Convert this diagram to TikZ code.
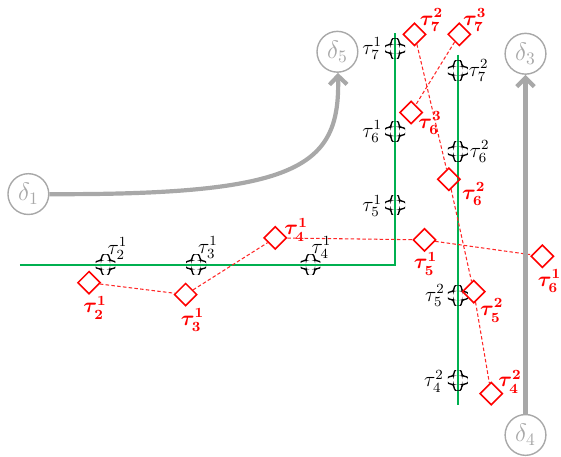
\documentclass[tikz,border=0pt]{standalone}
\usepackage{amsmath}
\usepackage{amssymb}
\usepackage{tikz}
\usetikzlibrary{arrows.meta,shapes.geometric,positioning}
\definecolor{trackgreen}{RGB}{0,176,80}
\definecolor{softgray}{RGB}{168,168,168}

\begin{document}
\begin{tikzpicture}
[x=0.02cm,y=-0.02cm,
cut/.style={rectangle,inner sep=0pt,minimum size=0.4cm,path picture={\draw[black,line width=0.75pt,rounded corners=1.5pt,shift={(path picture bounding box.center)}] (-4,-9) to[bend left=40] (4,-9) -- (4,-4) -- (9,-4) to[bend left=40] (9,4) -- (4,4) -- (4,9) to[bend left=40] (-4,9) -- (-4,4) -- (-9,4) to[bend left=40] (-9,-4) -- (-4,-4) -- cycle;}},
slot/.style={diamond,draw=red,line width=0.9pt,inner sep=0pt,minimum size=0.46cm},
blab/.style={inner sep=0pt,font=\large},
rlab/.style={inner sep=0pt,font=\large\boldmath,text=red},
delta/.style={circle,draw=softgray,line width=0.8pt,text=softgray,inner sep=0pt,minimum size=0.82cm,font=\Large},
track/.style={draw=trackgreen,line width=1.1pt},
link/.style={draw=red!85,line width=0.6pt,dash pattern=on 2pt off 1.3pt},
flow/.style={draw=softgray,line width=2.4pt,-{Straight Barb[length=5pt,width=10pt]}}]

% tracks
\draw [track] (20,266) -- (397,266) -- (397,33);
\draw [track] (460,55) -- (460,407);

% black cut marks
\node[cut] (m21) at (106,266) {};
\node[cut] (m31) at (197,266) {};
\node[cut] (m41) at (312,266) {};
\node[cut] (m51) at (397,206) {};
\node[cut] (m61) at (397,132) {};
\node[cut] (m71) at (397,49) {};
\node[cut] (m72) at (460,71) {};
\node[cut] (m62) at (460,152) {};
\node[cut] (m52) at (460,297) {};
\node[cut] (m42) at (460,382) {};

\node[blab] (lm21) at ([shift={(12,-16)}]m21) {$\tau^1_2$};
\node[blab] (lm31) at ([shift={(12,-17)}]m31) {$\tau^1_3$};
\node[blab] (lm41) at ([shift={(11,-17)}]m41) {$\tau^1_4$};
\node[blab] (lm51) at ([shift={(-23,1)}]m51) {$\tau^1_5$};
\node[blab] (lm61) at ([shift={(-23,0)}]m61) {$\tau^1_6$};
\node[blab] (lm71) at ([shift={(-23,0)}]m71) {$\tau^1_7$};
\node[blab] (lm72) at ([shift={(21,0)}]m72) {$\tau^2_7$};
\node[blab] (lm62) at ([shift={(22,0)}]m62) {$\tau^2_6$};
\node[blab] (lm52) at ([shift={(-23,0)}]m52) {$\tau^2_5$};
\node[blab] (lm42) at ([shift={(-24,1)}]m42) {$\tau^2_4$};

% red slots
\node[slot] (r21) at (89.5,284) {};
\node[slot] (r31) at (186.5,296) {};
\node[slot] (r41) at (276.5,239) {};
\node[slot] (r51) at (426.5,241) {};
\node[slot] (r61) at (545,257.5) {};
\node[slot] (r72) at (416.5,34.5) {};
\node[slot] (r73) at (461.5,34.5) {};
\node[slot] (r63) at (413,113) {};
\node[slot] (r62) at (451,180) {};
\node[slot] (r52) at (476,293) {};
\node[slot] (r42) at (493.5,395.5) {};

\node[rlab] (lr21) at ([shift={(6,25)}]r21) {$\tau^1_2$};
\node[rlab] (lr31) at ([shift={(7,25.5)}]r31) {$\tau^1_3$};
\node[rlab] (lr41) at ([shift={(21,-8)}]r41) {$\tau^1_4$};
\node[rlab] (lr51) at ([shift={(1,24)}]r51) {$\tau^1_5$};
\node[rlab] (lr61) at ([shift={(7,25)}]r61) {$\tau^1_6$};
\node[rlab] (lr72) at ([shift={(17,-14)}]r72) {$\tau^2_7$};
\node[rlab] (lr73) at ([shift={(15.5,-14)}]r73) {$\tau^3_7$};
\node[rlab] (lr63) at ([shift={(19,11)}]r63) {$\tau^3_6$};
\node[rlab] (lr62) at ([shift={(25,15)}]r62) {$\tau^2_6$};
\node[rlab] (lr52) at ([shift={(18,19)}]r52) {$\tau^2_5$};
\node[rlab] (lr42) at ([shift={(19,-12)}]r42) {$\tau^2_4$};

\draw [link] (r21) -- (r31);
\draw [link] (r31) -- (r41);
\draw [link] (r41) -- (r51);
\draw [link] (r51) -- (r61);
\draw [link] (r72) -- (r62);
\draw [link] (r62) -- (r52);
\draw [link] (r52) -- (r42);
\draw [link] (r73) -- (r63);

% deltas
\node[delta] (d1) at (28.5,195) {$\delta_1$};
\node[delta] (d5) at (339,52) {$\delta_5$};
\node[delta] (d3) at (528,54) {$\delta_3$};
\node[delta] (d4) at (528,437) {$\delta_4$};

\draw [flow] (d1) .. controls (300,196) and (342,168) .. (d5);
\draw [flow] (d4) -- (d3);

\useasboundingbox (0,0) rectangle (561,455);
\end{tikzpicture}
\end{document}
